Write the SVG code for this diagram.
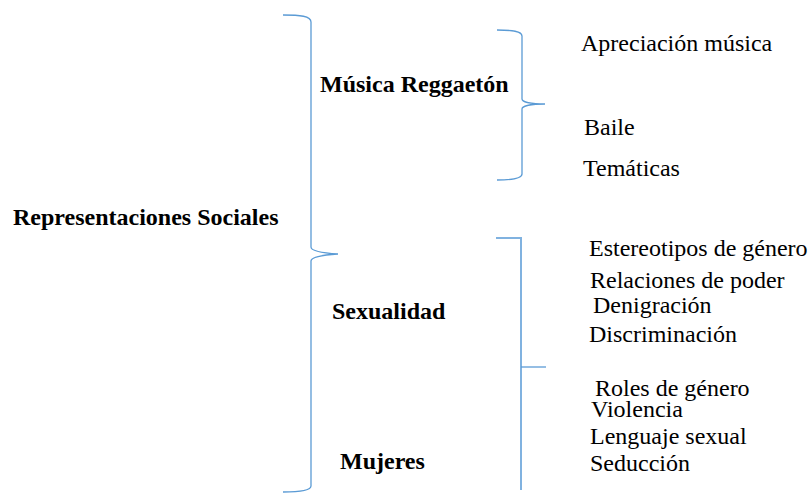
<svg xmlns="http://www.w3.org/2000/svg" width="810" height="493" viewBox="0 0 810 493">
<style>
text{font-family:'Liberation Serif','Times New Roman',serif;font-size:24px;fill:#000}
.b{font-weight:bold}
.br{fill:none;stroke:#5b9bd5;stroke-width:1.3}
.br2{fill:none;stroke:#80b2e0;stroke-width:2}
</style>
<rect width="810" height="493" fill="#fff"/>
<g id="connectors">
<path class="br" d="M283,15 C300,15 311,16 311,22 L311,247 C311,251 322,253 338,254 C322,255 311,257 311,261 L311,486 C311,490 300,492 283,492"/>
<path class="br" d="M497,30 C512,30 522,31 522,36 L522,99 C522,102 531,104 545,104 C531,104 522,106 522,109 L522,174 C522,178 512,180 497,180"/>
<path class="br2" d="M496,238 H521 V490"/>
<path class="br" d="M521,367 H546"/>
</g>
<g id="representaciones"><text class="b" x="13" y="225">Representaciones Sociales</text></g>
<g id="musica"><text class="b" x="320" y="92">Música Reggaetón</text></g>
<g id="sexualidad"><text class="b" x="332" y="319">Sexualidad</text></g>
<g id="mujeres"><text class="b" x="340" y="469">Mujeres</text></g>
<g id="apreciacion"><text x="581" y="51">Apreciación música</text></g>
<g id="baile"><text x="584" y="135">Baile</text></g>
<g id="tematicas"><text x="583" y="176">Temáticas</text></g>
<g id="estereotipos"><text x="589" y="256">Estereotipos de género</text></g>
<g id="relaciones"><text x="590" y="288">Relaciones de poder</text></g>
<g id="denigracion"><text x="593" y="313">Denigración</text></g>
<g id="discriminacion"><text x="589" y="342">Discriminación</text></g>
<g id="roles"><text x="595" y="396">Roles de género</text></g>
<g id="violencia"><text x="591" y="417">Violencia</text></g>
<g id="lenguaje"><text x="590" y="444">Lenguaje sexual</text></g>
<g id="seduccion"><text x="590" y="471">Seducción</text></g>
</svg>
